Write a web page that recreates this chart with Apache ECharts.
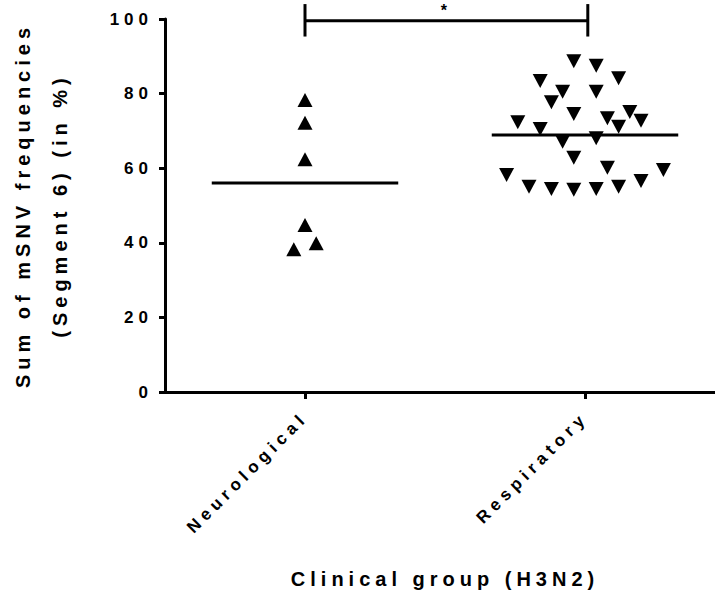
<!DOCTYPE html>
<html><head><meta charset="utf-8">
<script src="https://cdn.jsdelivr.net/npm/echarts@6/dist/echarts.min.js"></script>
<style>html,body{margin:0;padding:0;background:#fff}#c{width:715px;height:596px;letter-spacing:5px}</style>
</head><body><div id="c"></div><script>
// ---- data ----
const categories = ['Neurological', 'Respiratory'];
const yTicks = [0, 20, 40, 60, 80, 100];
// Neurological (up-triangles): horizontal jitter (category units) and values
const neuroX = [0, 0, 0, 0, -0.04, 0.04];
const neuroY = [78.3, 72.2, 62.4, 44.8, 38.3, 39.9];
// Respiratory (down-triangles)
const respX = [0.96, 1.04, 1.12, 0.84, 0.92, 1.04, 0.88, 0.96, 1.08, 1.16, 1.20, 0.76, 0.84,
               1.12, 0.92, 1.04, 0.96, 0.72, 1.08, 1.28, 0.80, 0.88, 0.96, 1.04, 1.12, 1.20];
const respY = [88.7, 87.5, 84.1, 83.4, 80.5, 80.5, 77.7, 74.5, 73.4, 75.1, 72.7, 72.3, 70.5,
               71.1, 67.1, 68.0, 62.8, 58.2, 60.1, 59.5, 55.0, 54.4, 54.2, 54.4, 55.0, 56.6];
// group means (horizontal lines)
const groupMeans = [56.0, 68.9];
// significance bracket
const bracketX = [0, 1.01];
const bracketY = [95.3, 99.5, 104];
const significance = '*';

const yTitle = 'Sum of mSNV frequencies\n(Segment 6) (in %)';
const xTitle = 'Clinical group (H3N2)';

const FONT = 'Liberation Sans, Arial, sans-serif';
const INK = '#000';

const chart = echarts.init(document.getElementById('c'), null, {renderer: 'svg'});
chart.setOption({
  animation: false,
  backgroundColor: '#fff',
  grid: {left: 165, top: 19, width: 560, height: 373, containLabel: false, outerBoundsMode: 'none'},
  xAxis: [{
    type: 'category', data: categories, boundaryGap: true,
    axisLine: {show: true, onZero: false, lineStyle: {color: INK, width: 3}},
    axisTick: {show: true, alignWithLabel: true, length: 7, lineStyle: {color: INK, width: 3}},
    axisLabel: {rotate: 45, margin: 23, color: INK, fontFamily: FONT, fontWeight: 'bold', fontSize: 17},
    splitLine: {show: false},
    name: xTitle, nameLocation: 'middle', nameGap: 177,
    nameTextStyle: {color: INK, fontFamily: FONT, fontWeight: 'bold', fontSize: 20}
  }, {
    type: 'value', min: -0.5, max: 1.5, show: false
  }],
  yAxis: {
    type: 'value', min: yTicks[0], max: yTicks[yTicks.length - 1], interval: yTicks[1] - yTicks[0],
    axisLine: {show: true, onZero: false, lineStyle: {color: INK, width: 3}},
    axisTick: {show: true, length: 6, lineStyle: {color: INK, width: 3}},
    axisLabel: {margin: 12, color: INK, fontFamily: FONT, fontWeight: 'bold', fontSize: 17},
    splitLine: {show: false},
    name: yTitle, nameLocation: 'middle', nameRotate: 90, nameGap: 87,
    nameTextStyle: {color: INK, fontFamily: FONT, fontWeight: 'bold', fontSize: 20, lineHeight: 37}
  },
  series: [{
    type: 'scatter', xAxisIndex: 1,
    data: neuroX.map((x, i) => [x, neuroY[i]]),
    symbol: 'triangle', symbolSize: [15, 14],
    itemStyle: {color: INK, opacity: 1}
  }, {
    type: 'scatter', xAxisIndex: 1,
    data: respX.map((x, i) => [x, respY[i]]),
    symbol: 'triangle', symbolSize: [15, 14], symbolRotate: 180,
    itemStyle: {color: INK, opacity: 1}
  }, {
    type: 'custom', xAxisIndex: 1, clip: false, z: 5,
    data: groupMeans.map((m, i) => [i, m]),
    renderItem: function (params, api) {
      const i = api.value(0), m = api.value(1);
      const a = api.coord([i - 0.333, m]);
      const b = api.coord([i + 0.333, m]);
      return {type: 'line', shape: {x1: a[0], y1: a[1], x2: b[0], y2: b[1]},
              style: {stroke: INK, lineWidth: 3}};
    }
  }, {
    type: 'custom', xAxisIndex: 1, clip: false, z: 5,
    data: [[bracketX[0], bracketX[1], bracketY[0], bracketY[1], bracketY[2]]],
    renderItem: function (params, api) {
      const x0 = api.value(0), x1 = api.value(1);
      const lo = api.value(2), mid = api.value(3), hi = api.value(4);
      const l0 = api.coord([x0, lo]), l1 = api.coord([x0, hi]);
      const r0 = api.coord([x1, lo]), r1 = api.coord([x1, hi]);
      const m0 = api.coord([x0, mid]), m1 = api.coord([x1, mid]);
      const st = {stroke: INK, lineWidth: 3};
      return {type: 'group', children: [
        {type: 'line', shape: {x1: l0[0], y1: l0[1], x2: l1[0], y2: l1[1]}, style: st},
        {type: 'line', shape: {x1: r0[0], y1: r0[1], x2: r1[0], y2: r1[1]}, style: st},
        {type: 'line', shape: {x1: m0[0], y1: m0[1], x2: m1[0], y2: m1[1]}, style: st},
        {type: 'text', x: (m0[0] + m1[0]) / 2, y: m0[1] - 2,
         style: {text: significance, fill: INK, font: 'bold 16px ' + FONT,
                 align: 'center', verticalAlign: 'bottom'}}
      ]};
    }
  }]
});
</script></body></html>
